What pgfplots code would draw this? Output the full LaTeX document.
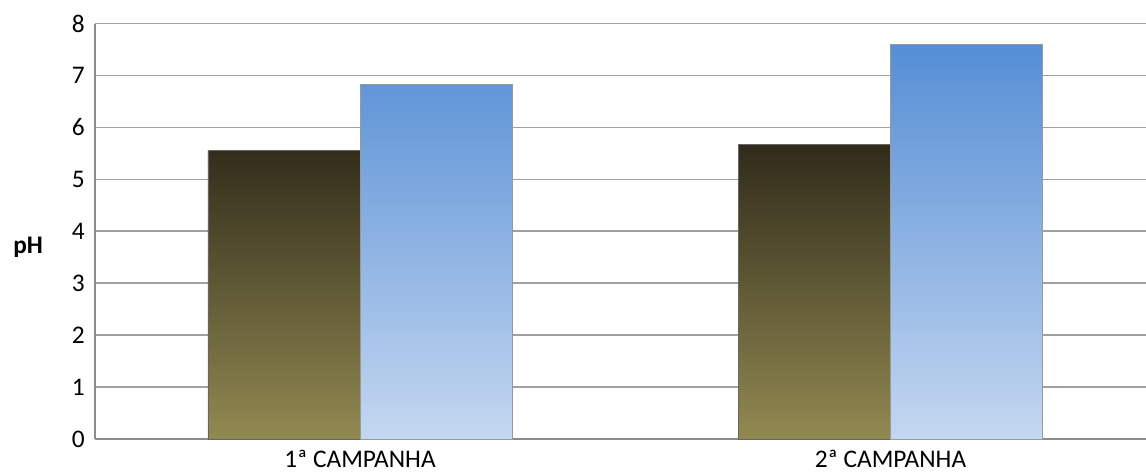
\documentclass[border=0pt]{standalone}
\usepackage{pgfplots}
\pgfplotsset{compat=1.18}
\usepackage{fontspec}
\setmainfont{Carlito}
\definecolor{oliveTop}{HTML}{312C1B}
\definecolor{oliveBot}{HTML}{928951}
\definecolor{blueTop}{HTML}{558ED5}
\definecolor{blueBot}{HTML}{C4D7F0}
\definecolor{gridc}{HTML}{A0A0A0}
\definecolor{axisc}{HTML}{8C8C8C}
\begin{document}
\begin{tikzpicture}
\useasboundingbox (0,0) rectangle (859.5pt,354pt);
\begin{axis}[
  at={(71.25pt,24.75pt)}, anchor=south west,
  scale only axis,
  width=788.25pt, height=311.625pt,
  xmin=-0.4995, xmax=1.4816,
  ymin=0, ymax=8,
  ytick={0,1,...,8},
  xtick={0,1},
  xticklabels={1ª CAMPANHA, 2ª CAMPANHA},
  axis x line*=bottom, axis y line*=left,
  axis line style={axisc, line width=1.2pt, -},
  major tick length=0pt,
  ymajorgrids,
  grid style={gridc, line width=1.2pt},
  tick label style={font=\fontsize{19}{22}\selectfont, text=black},
  yticklabel style={inner sep=0pt, xshift=-7.5pt},
  xticklabel style={inner sep=0pt, yshift=-8pt},
  /pgf/number format/assume math mode=true,
  clip=false,
]
\addplot[ybar, bar width=0.2865, bar shift=-0.1433, draw=black!60, line width=0.7pt,
  top color=oliveTop, bottom color=oliveBot]
  coordinates {(0,5.56) (1,5.67)};
\addplot[ybar, bar width=0.2865, bar shift=0.1433, draw=black!40, line width=0.7pt,
  top color=blueTop, bottom color=blueBot]
  coordinates {(0,6.82) (1,7.60)};
\node[font=\fontsize{19}{22}\selectfont\bfseries] at (axis description cs:-0.0637,0.462) {pH};
\end{axis}
\end{tikzpicture}
\end{document}
